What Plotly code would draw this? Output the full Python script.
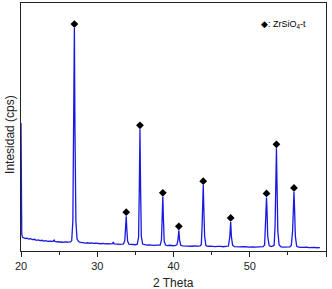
import plotly.graph_objects as go

# XRD pattern (2θ in degrees, intensity in arbitrary cps)
two_theta = [
    20.00, 20.04, 20.10, 20.20, 20.40, 20.60, 20.80, 21.00, 21.25, 21.50, 21.75, 22.00, 22.25,
    22.50, 22.75, 23.00, 23.25, 23.50, 23.75, 24.00, 24.20, 24.35, 24.45, 24.70, 25.00, 25.25,
    25.50, 25.75, 26.00, 26.25, 26.50, 26.65, 26.80, 26.92, 27.00, 27.08, 27.20, 27.35, 27.55,
    27.80, 28.00, 28.25, 28.50, 28.75, 29.00, 29.25, 29.50, 29.75, 30.00, 30.25, 30.50, 30.75,
    31.00, 31.25, 31.50, 31.75, 32.00, 32.10, 32.20, 32.50, 32.75, 33.00, 33.25, 33.45, 33.62,
    33.72, 33.80, 33.88, 33.98, 34.15, 34.40, 34.70, 35.00, 35.25, 35.42, 35.52, 35.60, 35.68,
    35.78, 35.95, 36.20, 36.50, 36.75, 37.00, 37.25, 37.50, 37.75, 38.00, 38.25, 38.42, 38.52,
    38.60, 38.68, 38.78, 38.95, 39.20, 39.50, 39.75, 40.00, 40.25, 40.45, 40.58, 40.70, 40.80,
    40.95, 41.20, 41.50, 41.75, 42.00, 42.25, 42.50, 42.75, 43.00, 43.25, 43.50, 43.65, 43.75,
    43.82, 43.90, 43.98, 44.08, 44.25, 44.50, 44.75, 45.00, 45.25, 45.50, 45.75, 46.00, 46.25,
    46.50, 46.75, 47.00, 47.20, 47.38, 47.50, 47.60, 47.75, 48.00, 48.25, 48.50, 48.75, 49.00,
    49.25, 49.50, 49.75, 50.00, 50.25, 50.50, 50.75, 51.00, 51.25, 51.50, 51.75, 51.95, 52.05,
    52.13, 52.20, 52.27, 52.35, 52.55, 52.80, 53.00, 53.20, 53.32, 53.42, 53.50, 53.58, 53.68,
    53.85, 54.10, 54.40, 54.70, 55.00, 55.25, 55.45, 55.62, 55.72, 55.80, 55.88, 55.98, 56.15,
    56.40, 56.70, 57.00, 57.25, 57.50, 57.75, 58.00, 58.25, 58.50, 58.75, 59.00, 59.20,
]
intensity = [
    1290, 420, 170, 138, 130, 126, 129, 120, 124, 114, 118, 108, 112,
    104, 108, 100, 104, 97, 100, 95, 98, 110, 96, 93, 90, 93,
    88, 91, 87, 90, 92, 105, 300, 1200, 2248, 1200, 300, 120, 95,
    88, 84, 86, 80, 83, 78, 81, 76, 79, 75, 77, 73, 76,
    71, 74, 70, 72, 74, 90, 72, 68, 70, 67, 69, 72, 110,
    220, 351, 220, 100, 68, 65, 66, 63, 68, 140, 650, 1227, 650,
    150, 70, 62, 60, 62, 58, 60, 57, 59, 56, 60, 110, 320,
    546, 320, 100, 60, 55, 58, 54, 53, 56, 62, 110, 209, 110,
    58, 52, 50, 53, 49, 52, 48, 51, 47, 50, 52, 65, 250,
    450, 664, 420, 150, 55, 47, 49, 45, 48, 44, 47, 43, 46,
    43, 45, 44, 50, 140, 293, 140, 60, 44, 42, 45, 41, 44,
    40, 43, 40, 42, 39, 42, 39, 41, 38, 41, 43, 60, 200,
    400, 540, 400, 150, 55, 45, 48, 60, 250, 650, 1035, 650, 200,
    60, 42, 40, 43, 39, 42, 55, 200, 420, 596, 420, 150, 50,
    38, 36, 39, 35, 38, 34, 37, 33, 36, 33, 35, 34,
]

# ZrSiO4-t reflections (peak position, peak intensity)
peak_pos = [27.0, 33.8, 35.6, 38.6, 40.7, 43.9, 47.5, 52.2, 53.5, 55.8]
peak_int = [2248, 351, 1227, 546, 209, 664, 293, 540, 1035, 596]
marker_pad = 40

x_ticks = [20, 30, 40, 50, 60]

fig = go.Figure()
fig.add_trace(go.Scatter(
    x=two_theta, y=intensity, mode="lines",
    line=dict(color="rgb(25,25,225)", width=1.3),
    showlegend=False, hoverinfo="skip",
))
fig.add_trace(go.Scatter(
    x=peak_pos, y=[v + marker_pad for v in peak_int], mode="markers",
    marker=dict(symbol="diamond", size=6, color="black"),
    showlegend=False, hoverinfo="skip",
))

fig.update_layout(
    width=332, height=289,
    margin=dict(l=21, r=6, t=3, b=38),
    paper_bgcolor="white", plot_bgcolor="white",
    font=dict(family="Liberation Sans, Arial, sans-serif", color="#222"),
    xaxis=dict(
        range=[20, 60], tickvals=x_ticks, ticktext=[str(t) for t in x_ticks],
        ticks="outside", ticklen=5, tickwidth=1, tickcolor="#222",
        minor=dict(dtick=5, ticks="outside", ticklen=3, tickcolor="#222", showgrid=False),
        showline=True, linecolor="#222", linewidth=1, mirror=True,
        showgrid=False, zeroline=False, tickfont=dict(size=11),
    ),
    yaxis=dict(
        range=[0, 2500], showticklabels=False, ticks="",
        showline=True, linecolor="#222", linewidth=1, mirror=True,
        showgrid=False, zeroline=False,
    ),
    annotations=[
        dict(text="2 Theta", xref="paper", yref="paper", x=0.5, y=-0.128,
             xanchor="center", yanchor="middle", showarrow=False,
             font=dict(size=12)),
        dict(text="Intesidad (cps)", xref="paper", yref="paper", x=-0.036, y=0.468,
             xanchor="center", yanchor="middle", textangle=-90, showarrow=False,
             font=dict(size=12)),
        dict(text="◆: ZrSiO<sub>4</sub>-t", xref="paper", yref="paper", x=0.78, y=0.915,
             xanchor="left", yanchor="middle", showarrow=False,
             font=dict(size=9, color="black")),
    ],
)

fig.write_html("out.html", config={"displayModeBar": False},
               post_script="document.body.style.margin='0';")
